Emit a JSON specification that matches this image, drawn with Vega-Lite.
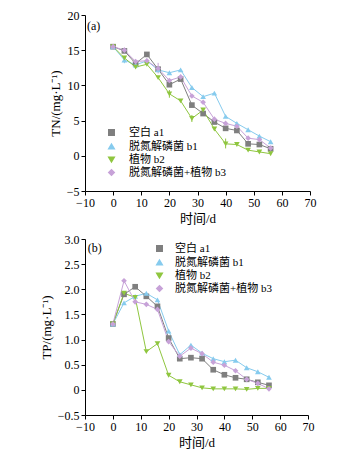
{
  "$schema": "https://vega.github.io/schema/vega-lite/v6.json",
  "padding": {"left": 40, "top": 9, "right": 5, "bottom": 5},
  "spacing": 8,
  "config": {
    "view": {"stroke": null},
    "font": "Liberation Serif",
    "axis": {
      "grid": false,
      "domainColor": "#000000",
      "tickColor": "#000000",
      "labelColor": "#000000",
      "titleColor": "#000000",
      "labelFont": "Liberation Serif",
      "labelFontSize": 12,
      "titleFont": "Liberation Serif, Noto Sans CJK SC",
      "titleFontSize": 13,
      "titleFontWeight": "normal",
      "tickSize": 4,
      "labelPadding": 2,
      "titlePadding": 4,
      "labelOverlap": false,
      "labelFlush": false
    },
    "legend": {
      "labelFont": "Liberation Serif, Noto Sans CJK SC",
      "labelFontSize": 11,
      "labelColor": "#000000"
    }
  },
  "datasets": {
    "tn": [
      {"t": 0, "s": "空白 a1", "v": 15.5},
      {"t": 4, "s": "空白 a1", "v": 14.9},
      {"t": 8, "s": "空白 a1", "v": 13.1},
      {"t": 12, "s": "空白 a1", "v": 14.4},
      {"t": 16, "s": "空白 a1", "v": 12.3},
      {"t": 20, "s": "空白 a1", "v": 10.1},
      {"t": 24, "s": "空白 a1", "v": 10.9},
      {"t": 28, "s": "空白 a1", "v": 7.2},
      {"t": 32, "s": "空白 a1", "v": 6.0},
      {"t": 36, "s": "空白 a1", "v": 4.8},
      {"t": 40, "s": "空白 a1", "v": 3.9},
      {"t": 44, "s": "空白 a1", "v": 3.6},
      {"t": 48, "s": "空白 a1", "v": 1.7},
      {"t": 52, "s": "空白 a1", "v": 1.6},
      {"t": 56, "s": "空白 a1", "v": 1.0},
      {"t": 0, "s": "脱氮解磷菌 b1", "v": 15.5},
      {"t": 4, "s": "脱氮解磷菌 b1", "v": 13.6, "lo": 13.15, "hi": 14.05},
      {"t": 8, "s": "脱氮解磷菌 b1", "v": 12.9},
      {"t": 12, "s": "脱氮解磷菌 b1", "v": 13.5},
      {"t": 16, "s": "脱氮解磷菌 b1", "v": 12.2},
      {"t": 20, "s": "脱氮解磷菌 b1", "v": 11.8},
      {"t": 24, "s": "脱氮解磷菌 b1", "v": 12.2},
      {"t": 28, "s": "脱氮解磷菌 b1", "v": 9.7},
      {"t": 32, "s": "脱氮解磷菌 b1", "v": 8.4},
      {"t": 36, "s": "脱氮解磷菌 b1", "v": 8.9},
      {"t": 40, "s": "脱氮解磷菌 b1", "v": 5.6},
      {"t": 44, "s": "脱氮解磷菌 b1", "v": 4.6},
      {"t": 48, "s": "脱氮解磷菌 b1", "v": 3.7},
      {"t": 52, "s": "脱氮解磷菌 b1", "v": 2.8},
      {"t": 56, "s": "脱氮解磷菌 b1", "v": 2.0},
      {"t": 0, "s": "植物 b2", "v": 15.5},
      {"t": 4, "s": "植物 b2", "v": 13.9},
      {"t": 8, "s": "植物 b2", "v": 12.6},
      {"t": 12, "s": "植物 b2", "v": 13.0},
      {"t": 16, "s": "植物 b2", "v": 11.1},
      {"t": 20, "s": "植物 b2", "v": 8.8, "lo": 8.25, "hi": 9.35},
      {"t": 24, "s": "植物 b2", "v": 7.8},
      {"t": 28, "s": "植物 b2", "v": 5.3, "lo": 4.8, "hi": 5.8},
      {"t": 32, "s": "植物 b2", "v": 6.5},
      {"t": 36, "s": "植物 b2", "v": 3.8},
      {"t": 40, "s": "植物 b2", "v": 1.7, "lo": 1.05, "hi": 2.45},
      {"t": 44, "s": "植物 b2", "v": 1.6},
      {"t": 48, "s": "植物 b2", "v": 0.8},
      {"t": 52, "s": "植物 b2", "v": 0.55},
      {"t": 56, "s": "植物 b2", "v": 0.3},
      {"t": 0, "s": "脱氮解磷菌+植物 b3", "v": 15.5},
      {"t": 4, "s": "脱氮解磷菌+植物 b3", "v": 15.0, "lo": 14.65, "hi": 15.35},
      {"t": 8, "s": "脱氮解磷菌+植物 b3", "v": 13.4},
      {"t": 12, "s": "脱氮解磷菌+植物 b3", "v": 13.5},
      {"t": 16, "s": "脱氮解磷菌+植物 b3", "v": 12.4, "lo": 11.7, "hi": 13.2},
      {"t": 20, "s": "脱氮解磷菌+植物 b3", "v": 10.7},
      {"t": 24, "s": "脱氮解磷菌+植物 b3", "v": 11.2},
      {"t": 28, "s": "脱氮解磷菌+植物 b3", "v": 8.5},
      {"t": 32, "s": "脱氮解磷菌+植物 b3", "v": 7.6},
      {"t": 36, "s": "脱氮解磷菌+植物 b3", "v": 5.2},
      {"t": 40, "s": "脱氮解磷菌+植物 b3", "v": 4.6},
      {"t": 44, "s": "脱氮解磷菌+植物 b3", "v": 4.2},
      {"t": 48, "s": "脱氮解磷菌+植物 b3", "v": 2.5},
      {"t": 52, "s": "脱氮解磷菌+植物 b3", "v": 2.3},
      {"t": 56, "s": "脱氮解磷菌+植物 b3", "v": 1.1}
    ],
    "tp": [
      {"t": 0, "s": "空白 a1", "v": 1.31},
      {"t": 4, "s": "空白 a1", "v": 1.90},
      {"t": 8, "s": "空白 a1", "v": 2.05},
      {"t": 12, "s": "空白 a1", "v": 1.86},
      {"t": 16, "s": "空白 a1", "v": 1.66},
      {"t": 20, "s": "空白 a1", "v": 1.03},
      {"t": 24, "s": "空白 a1", "v": 0.62},
      {"t": 28, "s": "空白 a1", "v": 0.64},
      {"t": 32, "s": "空白 a1", "v": 0.62},
      {"t": 36, "s": "空白 a1", "v": 0.40},
      {"t": 40, "s": "空白 a1", "v": 0.30},
      {"t": 44, "s": "空白 a1", "v": 0.24},
      {"t": 48, "s": "空白 a1", "v": 0.21},
      {"t": 52, "s": "空白 a1", "v": 0.15},
      {"t": 56, "s": "空白 a1", "v": 0.09},
      {"t": 0, "s": "脱氮解磷菌 b1", "v": 1.31},
      {"t": 4, "s": "脱氮解磷菌 b1", "v": 1.73},
      {"t": 8, "s": "脱氮解磷菌 b1", "v": 1.86},
      {"t": 12, "s": "脱氮解磷菌 b1", "v": 1.92},
      {"t": 16, "s": "脱氮解磷菌 b1", "v": 1.79},
      {"t": 20, "s": "脱氮解磷菌 b1", "v": 1.17},
      {"t": 24, "s": "脱氮解磷菌 b1", "v": 0.70},
      {"t": 28, "s": "脱氮解磷菌 b1", "v": 0.89},
      {"t": 32, "s": "脱氮解磷菌 b1", "v": 0.73},
      {"t": 36, "s": "脱氮解磷菌 b1", "v": 0.62},
      {"t": 40, "s": "脱氮解磷菌 b1", "v": 0.56},
      {"t": 44, "s": "脱氮解磷菌 b1", "v": 0.59},
      {"t": 48, "s": "脱氮解磷菌 b1", "v": 0.44},
      {"t": 52, "s": "脱氮解磷菌 b1", "v": 0.36},
      {"t": 56, "s": "脱氮解磷菌 b1", "v": 0.25},
      {"t": 0, "s": "植物 b2", "v": 1.31},
      {"t": 4, "s": "植物 b2", "v": 1.92},
      {"t": 8, "s": "植物 b2", "v": 1.84},
      {"t": 12, "s": "植物 b2", "v": 0.76},
      {"t": 16, "s": "植物 b2", "v": 0.92},
      {"t": 20, "s": "植物 b2", "v": 0.29},
      {"t": 24, "s": "植物 b2", "v": 0.16},
      {"t": 28, "s": "植物 b2", "v": 0.10},
      {"t": 32, "s": "植物 b2", "v": 0.04},
      {"t": 36, "s": "植物 b2", "v": 0.02},
      {"t": 40, "s": "植物 b2", "v": 0.02},
      {"t": 44, "s": "植物 b2", "v": 0.02},
      {"t": 48, "s": "植物 b2", "v": 0.01},
      {"t": 52, "s": "植物 b2", "v": 0.03},
      {"t": 56, "s": "植物 b2", "v": 0.03},
      {"t": 0, "s": "脱氮解磷菌+植物 b3", "v": 1.31},
      {"t": 4, "s": "脱氮解磷菌+植物 b3", "v": 2.17},
      {"t": 8, "s": "脱氮解磷菌+植物 b3", "v": 1.75},
      {"t": 12, "s": "脱氮解磷菌+植物 b3", "v": 1.70},
      {"t": 16, "s": "脱氮解磷菌+植物 b3", "v": 1.60},
      {"t": 20, "s": "脱氮解磷菌+植物 b3", "v": 0.96},
      {"t": 24, "s": "脱氮解磷菌+植物 b3", "v": 0.67},
      {"t": 28, "s": "脱氮解磷菌+植物 b3", "v": 0.83},
      {"t": 32, "s": "脱氮解磷菌+植物 b3", "v": 0.72},
      {"t": 36, "s": "脱氮解磷菌+植物 b3", "v": 0.55},
      {"t": 40, "s": "脱氮解磷菌+植物 b3", "v": 0.49},
      {"t": 44, "s": "脱氮解磷菌+植物 b3", "v": 0.38},
      {"t": 48, "s": "脱氮解磷菌+植物 b3", "v": 0.21},
      {"t": 52, "s": "脱氮解磷菌+植物 b3", "v": 0.13},
      {"t": 56, "s": "脱氮解磷菌+植物 b3", "v": 0.02}
    ]
  },
  "resolve": {
    "scale": {"x": "independent", "y": "independent", "color": "independent", "shape": "independent"},
    "legend": {"color": "independent", "shape": "independent"}
  },
  "vconcat": [
    {
      "width": 225,
      "height": 176,
      "data": {"name": "tn"},
      "layer": [
        {
          "mark": {"type": "line", "strokeWidth": 1},
          "encoding": {
            "x": {"field": "t", "type": "quantitative", "title": "时间/d",
              "scale": {"domain": [-10, 70], "nice": false},
              "axis": {"values": [-10, 0, 10, 20, 30, 40, 50, 60, 70], "tickCount": 20, "labelOverlap": false}},
            "y": {"field": "v", "type": "quantitative", "title": "TN/(mg·L⁻¹)",
              "scale": {"domain": [-5, 20], "nice": false},
              "axis": {"values": [-5, 0, 5, 10, 15, 20], "tickCount": 20, "labelOverlap": false}},
            "color": {"field": "s", "type": "nominal",
              "scale": {"domain": ["空白 a1", "脱氮解磷菌 b1", "植物 b2", "脱氮解磷菌+植物 b3"], "range": ["#7f7f7f", "#86cbee", "#8fc63f", "#c7a2d8"]},
              "legend": {"orient": "none", "legendX": 21, "legendY": 112, "title": null, "symbolSize": 30, "labelOffset": 12, "rowPadding": 1}}
          }
        },
        {
          "transform": [{"filter": "isValid(datum.lo)"}],
          "mark": {"type": "rule", "strokeWidth": 1},
          "encoding": {
            "x": {"field": "t", "type": "quantitative"},
            "y": {"field": "lo", "type": "quantitative"},
            "y2": {"field": "hi"},
            "color": {"field": "s", "type": "nominal",
              "scale": {"domain": ["空白 a1", "脱氮解磷菌 b1", "植物 b2", "脱氮解磷菌+植物 b3"], "range": ["#7f7f7f", "#86cbee", "#8fc63f", "#c7a2d8"]}}
          }
        },
        {
          "mark": {"type": "point", "filled": true, "opacity": 1, "size": 32},
          "encoding": {
            "x": {"field": "t", "type": "quantitative"},
            "y": {"field": "v", "type": "quantitative"},
            "color": {"field": "s", "type": "nominal",
              "scale": {"domain": ["空白 a1", "脱氮解磷菌 b1", "植物 b2", "脱氮解磷菌+植物 b3"], "range": ["#7f7f7f", "#86cbee", "#8fc63f", "#c7a2d8"]}},
            "shape": {"field": "s", "type": "nominal", "legend": null,
              "scale": {"domain": ["空白 a1", "脱氮解磷菌 b1", "植物 b2", "脱氮解磷菌+植物 b3"], "range": ["square", "triangle-up", "triangle-down", "diamond"]}}
          }
        },
        {
          "data": {"values": [{"label": "(a)"}]},
          "mark": {"type": "text", "align": "left", "baseline": "middle", "fontSize": 12, "font": "Liberation Serif"},
          "encoding": {
            "x": {"datum": -9.3},
            "y": {"datum": 18.5},
            "text": {"field": "label"}
          }
        }
      ]
    },
    {
      "width": 223,
      "height": 176,
      "data": {"name": "tp"},
      "layer": [
        {
          "mark": {"type": "line", "strokeWidth": 1},
          "encoding": {
            "x": {"field": "t", "type": "quantitative", "title": "时间/d",
              "scale": {"domain": [-10, 70], "nice": false},
              "axis": {"values": [-10, 0, 10, 20, 30, 40, 50, 60, 70], "tickCount": 20, "labelOverlap": false}},
            "y": {"field": "v", "type": "quantitative", "title": "TP/(mg·L⁻¹)",
              "scale": {"domain": [-0.5, 3.0], "nice": false},
              "axis": {"values": [-0.5, 0, 0.5, 1.0, 1.5, 2.0, 2.5, 3.0], "tickCount": 20, "labelOverlap": false, "labelExpr": "datum.value == 0 ? '0' : format(datum.value, '.1f')"}},
            "color": {"field": "s", "type": "nominal",
              "scale": {"domain": ["空白 a1", "脱氮解磷菌 b1", "植物 b2", "脱氮解磷菌+植物 b3"], "range": ["#7f7f7f", "#86cbee", "#8fc63f", "#c7a2d8"]},
              "legend": {"orient": "none", "legendX": 69, "legendY": 4, "title": null, "symbolSize": 30, "labelOffset": 10, "rowPadding": 1}}
          }
        },
        {
          "mark": {"type": "point", "filled": true, "opacity": 1, "size": 32},
          "encoding": {
            "x": {"field": "t", "type": "quantitative"},
            "y": {"field": "v", "type": "quantitative"},
            "color": {"field": "s", "type": "nominal",
              "scale": {"domain": ["空白 a1", "脱氮解磷菌 b1", "植物 b2", "脱氮解磷菌+植物 b3"], "range": ["#7f7f7f", "#86cbee", "#8fc63f", "#c7a2d8"]}},
            "shape": {"field": "s", "type": "nominal", "legend": null,
              "scale": {"domain": ["空白 a1", "脱氮解磷菌 b1", "植物 b2", "脱氮解磷菌+植物 b3"], "range": ["square", "triangle-up", "triangle-down", "diamond"]}}
          }
        },
        {
          "data": {"values": [{"label": "(b)"}]},
          "mark": {"type": "text", "align": "left", "baseline": "middle", "fontSize": 12, "font": "Liberation Serif"},
          "encoding": {
            "x": {"datum": -9.0},
            "y": {"datum": 2.82},
            "text": {"field": "label"}
          }
        }
      ]
    }
  ]
}
